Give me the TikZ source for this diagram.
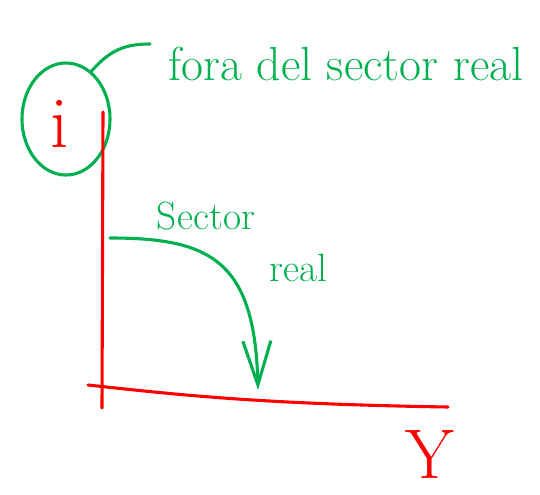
\documentclass[tikz,border=0pt]{standalone}
\usepackage{tikz}
\usetikzlibrary{shapes.geometric,arrows.meta}
\definecolor{penred}{RGB}{255,0,0}
\definecolor{pengreen}{RGB}{0,176,80}

\begin{document}
\begin{tikzpicture}[x=0.025cm, y=-0.025cm,
        axis/.style={draw=penred, line width=2.2pt, line cap=round},
        ink/.style={draw=pengreen, line width=2.2pt, line cap=round},
        varlab/.style={text=penred, inner sep=0pt},
        note/.style={text=pengreen, inner sep=0pt, font=\fontsize{28}{30}\selectfont}
    ]
        \useasboundingbox (0,0) rectangle (540,494);

        % Nodes
        \node[ellipse, ink, inner sep=0pt, minimum width=2.2cm, minimum height=2.8cm] (irate) at (66,119) {};
        \node[varlab, font=\fontsize{52}{54}\selectfont] (ilab) at (60,124) {i};
        \node[varlab, font=\fontsize{50}{52}\selectfont] (ylab) at (430,454) {Y};
        \node[note, anchor=west, font=\fontsize{34}{36}\selectfont] (fora) at (168,64) {fora del sector real};
        \node[note] (sector) at (206,216) {Sector};
        \node[note] (real) at (298,268) {real};

        % Axes
        \coordinate (ytop) at (103,112);
        \coordinate (ybot) at (102,408);
        \coordinate (xleft) at (88,385);
        \coordinate (xright) at (448,407);
        \draw[axis] (ytop) -- (ybot);
        \draw[axis] (xleft) .. controls (180,395) and (260,404) .. (xright);

        % Leader and arrow
        \coordinate (lead) at (150,44);
        \draw[ink] (irate.62) .. controls (110,50) and (125,44) .. (lead);
        \coordinate (arrs) at (110,238);
        \coordinate (arre) at (258,390);
        \draw[ink, -{Straight Barb[length=11mm, width=7mm]}]
            (arrs) .. controls (210,238) and (255,260) .. (arre);

    \end{tikzpicture}
\end{document}
